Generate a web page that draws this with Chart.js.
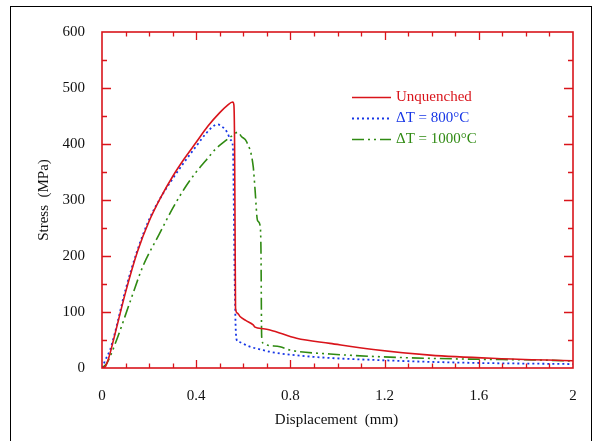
<!DOCTYPE html>
<html>
<head>
<meta charset="utf-8">
<script src="https://cdn.jsdelivr.net/npm/chart.js@4.4.1/dist/chart.umd.min.js"></script>
<style>
  html, body { margin: 0; padding: 0; background: #fff; }
  #wrap { position: relative; width: 603px; height: 441px; }
</style>
</head>
<body>
<div id="wrap"><canvas id="stressChart"></canvas></div>
<script>
// --- Du lieu doc tu hinh ---
const seriesNames = ['Unquenched', '\u0394T = 800\u00B0C', '\u0394T = 1000\u00B0C'];

const unqX = [0, 0.013, 0.03, 0.05, 0.1, 0.15, 0.2, 0.25, 0.3, 0.35, 0.4, 0.45, 0.5, 0.53, 0.555, 0.56, 0.563, 0.565, 0.567, 0.575, 0.586, 0.61, 0.642, 0.65, 0.685, 0.713, 0.826, 0.968, 1.152, 1.393, 1.676, 2.0];
const unqY = [0, 2, 20, 52, 135, 207, 262, 305, 342, 374, 403, 432, 456, 468, 475, 470, 400, 250, 107, 98, 92, 85, 77, 73, 70, 68, 53, 44, 33, 23, 17, 13];

const t800X = [0, 0.015, 0.034, 0.05, 0.1, 0.15, 0.2, 0.25, 0.3, 0.35, 0.4, 0.44, 0.47, 0.49, 0.51, 0.53, 0.547, 0.556, 0.558, 0.562, 0.567, 0.572, 0.579, 0.628, 0.685, 0.713, 0.897, 1.18, 1.534, 2.0];
const t800Y = [0, 15, 32, 55, 140, 210, 265, 305, 338, 368, 396, 418, 431, 435, 431, 422, 407, 395, 350, 200, 80, 50, 47, 38, 32, 29, 20, 14, 9.5, 7];

const t1000X = [0, 0.02, 0.062, 0.119, 0.175, 0.242, 0.3, 0.357, 0.4, 0.442, 0.48, 0.522, 0.55, 0.577, 0.593, 0.614, 0.642, 0.65, 0.66, 0.671, 0.675, 0.678, 0.685, 0.692, 0.756, 0.798, 0.968, 1.251, 1.534, 1.96, 2.0];
const t1000Y = [0, 8, 50, 118, 183, 238, 285, 325, 350, 371, 390, 405, 414, 421, 413, 404, 360, 318, 264, 255, 211, 56, 44, 42, 38, 32, 25, 19, 16, 13, 12];

const xTicks = [0, 0.4, 0.8, 1.2, 1.6, 2];
const yTicks = [0, 100, 200, 300, 400, 500, 600];

const RED = '#d9141b';
const BLUE = '#1736e6';
const GREEN = '#2f8a12';
const FONT = '"Liberation Serif", "Times New Roman", serif';

function toPoints(xs, ys) {
    return xs.map((x, i) => ({ x: x, y: ys[i] }));
}

// Khung, vach chia huong vao trong, tieu de truc va chu giai
const decorPlugin = {
    id: 'decor',
    beforeDraw(chart) {
        const ctx = chart.ctx;
        ctx.save();
        ctx.strokeStyle = '#000';
        ctx.lineWidth = 1;
        ctx.strokeRect(10.5, 6.5, 581, 460);
        ctx.restore();
    },
    afterDatasetsDraw(chart) {
        const ctx = chart.ctx;
        const a = chart.chartArea;
        const xs = chart.scales.x, ys = chart.scales.y;
        ctx.save();
        ctx.strokeStyle = RED;
        ctx.lineWidth = 1.3;
        ctx.beginPath();
        // vach chia x moi 0.1, dai hon o boi so 0.4
        for (let i = 1; i < 20; i++) {
            const px = Math.round(xs.getPixelForValue(i / 10)) + 0.5;
            const len = (i % 4 === 0) ? 8 : 4.5;
            ctx.moveTo(px, a.bottom); ctx.lineTo(px, a.bottom - len);
            ctx.moveTo(px, a.top); ctx.lineTo(px, a.top + len);
        }
        // vach chia y moi 50
        for (let v = 50; v < 600; v += 50) {
            const py = Math.round(ys.getPixelForValue(v)) + 0.5;
            const len = (v % 100 === 0) ? 9 : 5;
            ctx.moveTo(a.left, py); ctx.lineTo(a.left + len, py);
            ctx.moveTo(a.right, py); ctx.lineTo(a.right - len, py);
        }
        ctx.stroke();
        ctx.lineWidth = 1.6;
        ctx.strokeRect(a.left, a.top, a.right - a.left, a.bottom - a.top);

        // tieu de truc
        ctx.fillStyle = '#111';
        ctx.font = '15px ' + FONT;
        ctx.textAlign = 'center';
        ctx.textBaseline = 'middle';
        ctx.fillText('Displacement  (mm)', (a.left + a.right) / 2 - 1, 420);
        ctx.translate(44, (a.top + a.bottom) / 2);
        ctx.rotate(-Math.PI / 2);
        ctx.fillText('Stress  (MPa)', 0, 0);
        ctx.restore();

        // chu giai
        ctx.save();
        const rowsY = [97, 118, 139];
        chart.data.datasets.forEach(function (ds, i) {
            const y = rowsY[i] + 0.5;
            ctx.strokeStyle = ds.borderColor;
            ctx.lineWidth = ds.borderWidth;
            ctx.setLineDash(ds.borderDash || []);
            ctx.beginPath();
            ctx.moveTo(352, y); ctx.lineTo(391, y);
            ctx.stroke();
            ctx.setLineDash([]);
            ctx.fillStyle = ds.borderColor;
            ctx.font = '15px ' + FONT;
            ctx.textAlign = 'left';
            ctx.textBaseline = 'middle';
            ctx.fillText(ds.label, 396, y);
        });
        ctx.restore();
    }
};

const chart = new Chart(document.getElementById('stressChart').getContext('2d'), {
    type: 'line',
    data: {
        datasets: [
            {
                label: seriesNames[0],
                data: toPoints(unqX, unqY),
                borderColor: RED,
                borderWidth: 1.6,
                pointRadius: 0,
                cubicInterpolationMode: 'monotone'
            },
            {
                label: seriesNames[1],
                data: toPoints(t800X, t800Y),
                borderColor: BLUE,
                borderWidth: 1.8,
                borderDash: [2, 3],
                pointRadius: 0,
                cubicInterpolationMode: 'monotone'
            },
            {
                label: seriesNames[2],
                data: toPoints(t1000X, t1000Y),
                borderColor: GREEN,
                borderWidth: 1.6,
                borderDash: [12, 4, 2, 4, 2, 4],
                pointRadius: 0,
                cubicInterpolationMode: 'monotone'
            }
        ]
    },
    options: {
        responsive: true,
        maintainAspectRatio: false,
        animation: false,
        layout: { padding: { left: 0, top: 32, right: 30, bottom: 0 } },
        plugins: {
            legend: { display: false },
            tooltip: { enabled: false }
        },
        scales: {
            x: {
                type: 'linear',
                min: 0,
                max: 2,
                afterBuildTicks: function (scale) {
                    scale.ticks = xTicks.map(v => ({ value: v }));
                },
                afterFit: function (scale) { scale.height = 73; },
                grid: { display: false, drawTicks: false },
                border: { display: false },
                ticks: {
                    padding: 19,
                    color: '#111',
                    font: { family: FONT, size: 15 },
                    callback: v => String(Number(v.toFixed(1)))
                }
            },
            y: {
                min: 0,
                max: 600,
                afterBuildTicks: function (scale) {
                    scale.ticks = yTicks.map(v => ({ value: v }));
                },
                afterFit: function (scale) { scale.width = 102; },
                grid: { display: false, drawTicks: false },
                border: { display: false },
                ticks: {
                    padding: 17,
                    color: '#111',
                    font: { family: FONT, size: 15 }
                }
            }
        }
    },
    plugins: [decorPlugin]
});
</script>
</body>
</html>
